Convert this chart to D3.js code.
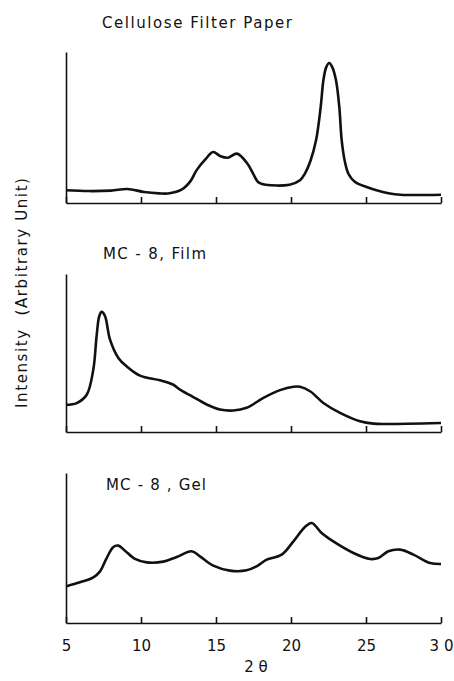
<!DOCTYPE html>
<html>
<head>
<meta charset="utf-8">
<script src="https://cdn.jsdelivr.net/npm/d3@7"></script>
<style>
  body { margin: 0; background: #fff; }
  text { font-family: "DejaVu Sans", sans-serif; fill: #111; }
  .axis path, .axis line { stroke: #111; stroke-width: 1.6; }
  .axis text { font-size: 15px; font-family: "DejaVu Sans", sans-serif; fill: #111; }
</style>
</head>
<body>
<script>
// tick values on the 2-theta axis
var thetaTicks = [5, 10, 15, 20, 25, 30];

// Cellulose filter paper
var paperTheta = [5.0, 6.5, 8.0, 9.1, 10.2, 11.2, 11.9, 12.7, 13.3, 13.7, 14.3, 14.8, 15.3, 15.8, 16.4, 17.1, 17.5, 17.8, 18.3, 19.9, 20.6, 20.93, 21.3, 21.67, 21.98, 22.16, 22.35, 22.55, 22.75, 23.0, 23.22, 23.38, 23.6, 23.82, 24.27, 25.04, 25.7, 26.5, 27.3, 30.0];
var paperInt   = [8.4, 7.9, 8.2, 9.3, 7.3, 6.4, 6.4, 8.8, 14.5, 21.6, 29.0, 33.8, 31.0, 30.0, 32.7, 26.0, 19.0, 13.9, 12.1, 12.1, 15.0, 19.5, 28.0, 41.5, 63.6, 81.3, 90.0, 92.7, 90.0, 81.3, 63.6, 41.5, 27.0, 19.5, 13.9, 10.6, 8.4, 6.5, 5.5, 5.5];

// MC-8 film
var filmTheta = [5.0, 5.71, 6.38, 6.82, 7.04, 7.22, 7.38, 7.6, 7.93, 8.49, 9.04, 9.93, 11.27, 12.16, 12.6, 13.38, 14.38, 15.27, 16.16, 17.04, 18.16, 19.27, 20.16, 20.6, 21.27, 22.16, 23.27, 24.6, 25.49, 26.38, 30.0];
var filmInt   = [17.2, 18.3, 23.6, 39.5, 60.7, 73.4, 76.0, 73.4, 58.6, 46.9, 41.6, 35.7, 32.7, 29.9, 26.8, 22.7, 17.4, 14.2, 13.6, 15.3, 21.6, 26.5, 28.6, 28.6, 25.8, 18.4, 12.1, 6.8, 5.3, 5.1, 5.7];

// MC-8 gel
var gelTheta = [5.0, 5.93, 6.82, 7.27, 7.71, 8.16, 8.49, 8.93, 9.6, 10.38, 11.49, 12.38, 13.38, 13.93, 14.82, 15.93, 17.04, 17.71, 18.38, 19.38, 20.16, 20.93, 21.38, 22.04, 22.82, 24.16, 25.27, 25.82, 26.49, 27.27, 28.16, 29.27, 30.0];
var gelInt   = [24.4, 27.1, 30.4, 34.4, 43.3, 50.7, 51.6, 48.2, 42.7, 40.4, 40.9, 44.0, 47.8, 44.4, 38.2, 34.9, 35.1, 37.8, 42.2, 45.6, 54.4, 64.0, 66.7, 60.0, 54.4, 46.7, 42.7, 43.3, 47.8, 48.9, 45.6, 40.0, 39.3];

var panelNames = ["Cellulose Filter Paper", "MC - 8, Film", "MC - 8 , Gel"];

var width = 454, height = 681;
var left = 66, right = 441;

var svg = d3.select("body")
    .append("svg")
        .attr("width", width)
        .attr("height", height);

var x = d3.scaleLinear()
    .domain([5, 30])
    .range([left, right]);

// layout of the three stacked panels
var panels = [
    {theta: paperTheta, val: paperInt, top: 52, bottom: 203, labelX: 102, labelY: 27.5, labelW: 190, labels: false},
    {theta: filmTheta,  val: filmInt,  top: 274, bottom: 432, labelX: 103, labelY: 259, labelW: 103, labels: false},
    {theta: gelTheta,   val: gelInt,   top: 473, bottom: 623, labelX: 106, labelY: 490, labelW: 100, labels: true}
];

panels.forEach(function(p, i) {
    var y = d3.scaleLinear()
        .domain([0, 100])
        .range([p.bottom, p.top]);

    var xAxis = d3.axisBottom(x)
        .tickValues(thetaTicks)
        .tickSizeInner(-6)
        .tickSizeOuter(0)
        .tickPadding(17)
        .tickFormat(p.labels ? function(d) { return d === 30 ? "3 0" : d; } : "");

    var yAxis = d3.axisLeft(y)
        .tickValues([])
        .tickSizeOuter(0);

    svg.append("g")
        .attr("class", "axis")
        .attr("transform", "translate(0," + p.bottom + ")")
        .call(xAxis);

    svg.append("g")
        .attr("class", "axis")
        .attr("transform", "translate(" + left + ",0)")
        .call(yAxis);

    var line = d3.line()
        .x(function(d) { return x(d[0]); })
        .y(function(d) { return y(d[1]); })
        .curve(d3.curveCatmullRom.alpha(0.5));

    svg.append("path")
        .datum(d3.zip(p.theta, p.val))
        .attr("fill", "none")
        .attr("stroke", "#111")
        .attr("stroke-width", 2.6)
        .attr("stroke-linejoin", "round")
        .attr("d", line);

    svg.append("text")
        .attr("x", p.labelX)
        .attr("y", p.labelY)
        .attr("font-size", 15)
        .attr("textLength", p.labelW)
        .attr("lengthAdjust", "spacing")
        .text(panelNames[i]);
});

// axis titles
svg.append("text")
    .attr("x", 256)
    .attr("y", 672)
    .attr("text-anchor", "middle")
    .attr("font-size", 15)
    .text("2 θ");

svg.append("text")
    .attr("transform", "translate(27,293) rotate(-90)")
    .attr("text-anchor", "middle")
    .attr("font-size", 15)
    .attr("textLength", 230)
    .attr("lengthAdjust", "spacing")
    .attr("xml:space", "preserve")
    .text("Intensity  (Arbitrary Unit)");
</script>
</body>
</html>
